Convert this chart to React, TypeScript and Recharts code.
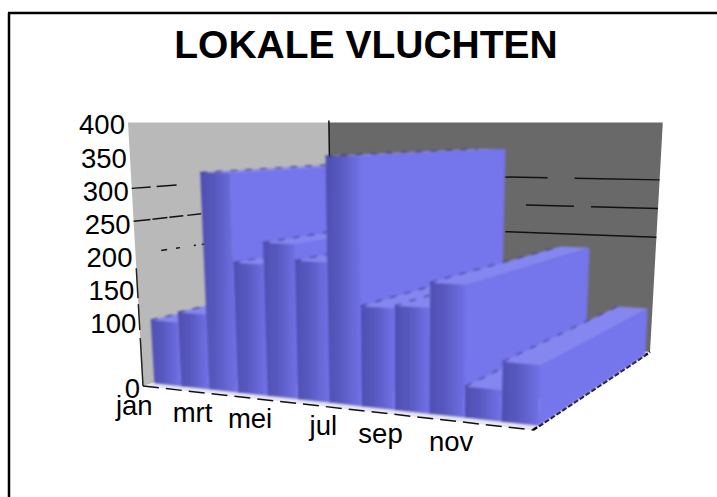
import { BarChart, Bar, XAxis, YAxis, Customized } from 'recharts';

const months = ['jan', 'feb', 'mrt', 'apr', 'mei', 'jun', 'jul', 'aug', 'sep', 'okt', 'nov', 'dec'];
const flights = [97, 112, 325, 192, 224, 200, 352, 141, 145, 180, 42, 80];
const valueTicks = [0, 100, 150, 200, 250, 300, 350, 400];

const chartData = months.map((month, i) => ({ month, flights: flights[i] }));

// nudges for the month labels, they don't sit evenly under the bars
const labelShift: Record<string, number> = { jan: -24, mrt: -22, mei: -24, jul: -14, sep: -24, nov: -25 };

const plot = { left: 143, top: 122, width: 390, height: 264 };
const horizonY = 122.5;

// floor corners: front left, front right, back right, back left
const floor = [[143, 386], [533, 430], [650, 352], [332, 328]];

const squareToQuad = (q: number[][]) => {
  const [[x0, y0], [x1, y1], [x2, y2], [x3, y3]] = q;
  const dx1 = x1 - x2, dx2 = x3 - x2, dx3 = x0 - x1 + x2 - x3;
  const dy1 = y1 - y2, dy2 = y3 - y2, dy3 = y0 - y1 + y2 - y3;
  const den = dx1 * dy2 - dx2 * dy1;
  const g = (dx3 * dy2 - dx2 * dy3) / den;
  const h = (dx1 * dy3 - dx3 * dy1) / den;
  return { a: x1 - x0 + g * x1, b: x3 - x0 + h * x3, c: x0, d: y1 - y0 + g * y1, e: y3 - y0 + h * y3, f: y0, g, h };
};
const H = squareToQuad(floor);

// u = along the months, v = depth, z = height (all 0..1)
const project = (u: number, v: number, z: number) => {
  const w = H.g * u + H.h * v + 1;
  const fx = (H.a * u + H.b * v + H.c) / w;
  const fy = (H.d * u + H.e * v + H.f) / w;
  const rise = z * (fy - horizonY);
  return [fx - ((400 - fx) / 4500) * rise, fy - rise];
};

const poly = (pts: number[][]) => pts.map(p => p.map(n => n.toFixed(1)).join(',')).join(' ');
const seg = (a: number[], b: number[]) => ({ x1: a[0], y1: a[1], x2: b[0], y2: b[1] });

const V0 = 0.04;
const V1 = 0.95;

const SlabBar = (props: any) => {
  const { x, width, height } = props;
  const u0 = (x - plot.left) / plot.width;
  const u1 = (x + width - plot.left) / plot.width;
  const z = height / plot.height;
  return (
    <g filter="url(#soft)">
      <polygon
        points={poly([project(u0, V0, z), project(u1, V0, z), project(u1, V1, z), project(u0, V1, z)])}
        fill="#8686f0"
      />
      <polygon
        points={poly([project(u1, V0, 0), project(u1, V1, 0), project(u1, V1, z), project(u1, V0, z)])}
        fill="#7474ec"
      />
      <polygon
        points={poly([project(u0, V0, 0), project(u1, V0, 0), project(u1, V0, z), project(u0, V0, z)])}
        fill="url(#frontFace)"
      />
      <line
        {...seg(project(u0, V0, z), project(u0, V1, z))}
        stroke="#34348c"
        strokeWidth={1.2}
        strokeDasharray="7 8"
      />
    </g>
  );
};

const ValueTick = ({ payload }: any) => {
  const [px, py] = project(0, 0, payload.value / 400);
  const drop = payload.value === 400 || payload.value === 0 ? 2 : 3;
  return (
    <text x={px - 3} y={py + drop} textAnchor="end" dominantBaseline="central" fontSize={27.5} fill="#000">
      {payload.value}
    </text>
  );
};

const MonthTick = ({ x, payload }: any) => {
  const [px, py] = project((x - plot.left) / plot.width, 0, 0);
  return (
    <text x={px + (labelShift[payload.value] ?? 0)} y={py + 18} textAnchor="middle" dominantBaseline="central" fontSize={27.5} fill="#000">
      {payload.value}
    </text>
  );
};

const Backdrop = () => (
  <g>
    <defs>
      <linearGradient id="frontFace" x1="0" y1="0" x2="1" y2="0">
        <stop offset="0%" stopColor="#4e4eb2" />
        <stop offset="40%" stopColor="#5858bf" />
        <stop offset="100%" stopColor="#7272e8" />
      </linearGradient>
      <filter id="soft" x="-5%" y="-5%" width="110%" height="110%">
        <feGaussianBlur stdDeviation="0.9" />
      </filter>
    </defs>
    <line x1={8} y1={13} x2={717} y2={13} stroke="#000" strokeWidth={2.5} />
    <line x1={9} y1={13} x2={9} y2={497} stroke="#000" strokeWidth={2.5} />
    <text x={366} y={58} textAnchor="middle" fontSize={39} fontWeight="bold" fill="#000">
      LOKALE VLUCHTEN
    </text>
    <polygon points={poly([project(0, 0, 0), project(0, 1, 0), project(0, 1, 1), project(0, 0, 1)])} fill="#b9b9b9" />
    <polygon points={poly([project(0, 1, 0), project(1, 1, 0), project(1, 1, 1), project(0, 1, 1)])} fill="#696969" />
    <polygon points={poly([project(0, 0, 0), project(1, 0, 0), project(1, 1, 0), project(0, 1, 0)])} fill="#e6e6ee" />

    <line {...seg(project(0, 0, 0.75), project(0, 1, 0.75))} stroke="#111" strokeWidth={1.5} strokeDasharray="19 6 20 1000" />
    <line {...seg(project(0, 0, 0.625), project(0, 1, 0.625))} stroke="#111" strokeWidth={1.5} strokeDasharray="17 2 15 2 14 4 14 1000" />
    <line {...seg(project(0, 0, 0.5), project(0, 1, 0.5))} stroke="#111" strokeWidth={1.5} strokeDasharray="0 26 6 9 4 14 2 6 3 1000" />
    <line {...seg(project(0, 1, 0.75), project(1, 1, 0.75))} stroke="#111" strokeWidth={1.5} strokeDasharray="0 175 43 27 90 1000" />
    <line {...seg(project(0, 1, 0.625), project(1, 1, 0.625))} stroke="#111" strokeWidth={1.5} strokeDasharray="0 196 48 17 70 1000" />
    <line {...seg(project(0, 1, 0.5), project(1, 1, 0.5))} stroke="#111" strokeWidth={1.5} strokeDasharray="0 175 160 1000" />

    <line {...seg(project(0, 1, 0), project(0, 1, 1.01))} stroke="#111" strokeWidth={1.5} />
    <line {...seg(project(0, 0, 0), project(0, 0, 0.46))} stroke="#222" strokeWidth={1.5} strokeDasharray="48 8 26 6 30 8" />
    <line {...seg(project(0, 0, 0), project(1, 0, 0))} stroke="#111" strokeWidth={1.5} strokeDasharray="16 7" />
    <line {...seg(project(1, 0, 0), project(1, 1, 0))} stroke="#000" strokeWidth={2.5} strokeDasharray="5 2" />
  </g>
);

export default function App() {
  return (
    <div style={{ position: 'absolute', left: 0, top: 0, width: 717, height: 497, fontFamily: '"Liberation Sans", Arial, sans-serif' }}>
      <BarChart
        width={717}
        height={497}
        data={chartData}
        barCategoryGap={0}
        margin={{ top: plot.top, left: plot.left - 1, right: 717 - plot.left - plot.width, bottom: 497 - plot.top - plot.height - 1 }}
      >
        <Customized component={Backdrop} />
        <XAxis
          dataKey="month"
          height={1}
          axisLine={false}
          tickLine={false}
          interval={1}
          padding={{ left: 2, right: 0 }}
          tick={<MonthTick />}
        />
        <YAxis
          type="number"
          domain={[0, 400]}
          ticks={valueTicks}
          width={1}
          interval={0}
          axisLine={false}
          tickLine={false}
          tick={<ValueTick />}
        />
        <Bar dataKey="flights" isAnimationActive={false} shape={<SlabBar />} />
      </BarChart>
    </div>
  );
}
